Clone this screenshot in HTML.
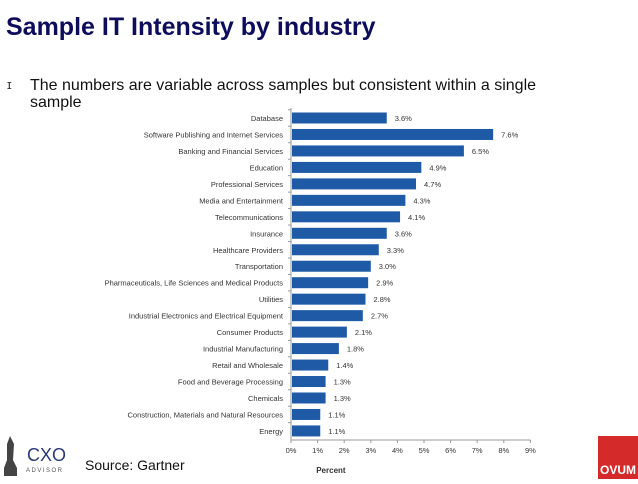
<!DOCTYPE html>
<html><head><meta charset="utf-8"><style>
body{margin:0;width:638px;height:479px;background:#fff;position:relative;overflow:hidden;font-family:"Liberation Sans",sans-serif}
.t{position:absolute}
</style></head><body>
<div class="t" style="left:6px;top:13px;font-size:25px;font-weight:bold;color:#0d0d5c;letter-spacing:0px">Sample IT Intensity by industry</div>
<div class="t" style="left:7px;top:77px;font-size:13px;color:#333">ɪ</div>
<div class="t" style="left:30px;top:77px;font-size:16px;line-height:17px;color:#111;width:515px">The numbers are variable across samples but consistent within a single sample</div>
<svg id="chart" width="638" height="479" style="position:absolute;left:0;top:0"></svg>
<div class="t" style="left:85px;top:457px;font-size:14px;color:#111">Source: Gartner</div>
<div class="t" style="left:2px;top:432px;width:75px;height:47px">
<svg width="75" height="47"><path d="M8 4 L12 12 L11 28 L15 36 L15 44 L2 44 L2 36 L5 28 L5 12 Z" fill="#444"/><text x="25" y="29" font-size="18" fill="#2a3a7a" font-family="Liberation Sans">CXO</text><text x="24" y="40" font-size="6" fill="#555" letter-spacing="1.5" font-family="Liberation Sans">ADVISOR</text></svg></div>
<div class="t" style="left:598px;top:436px;width:40px;height:43px;background:#d42a2a;color:#fff;font-weight:bold;font-size:12px;display:flex;align-items:flex-end;justify-content:center;padding-bottom:2px;box-sizing:border-box">OVUM</div>
<script>
const categories=["Database","Software Publishing and Internet Services","Banking and Financial Services","Education","Professional Services","Media and Entertainment","Telecommunications","Insurance","Healthcare Providers","Transportation","Pharmaceuticals, Life Sciences and Medical Products","Utilities","Industrial Electronics and Electrical Equipment","Consumer Products","Industrial Manufacturing","Retail and Wholesale","Food and Beverage Processing","Chemicals","Construction, Materials and Natural Resources","Energy"];
const values=[3.6,7.6,6.5,4.9,4.7,4.3,4.1,3.6,3.3,3.0,2.9,2.8,2.7,2.1,1.8,1.4,1.3,1.3,1.1,1.1];
const ticks=[0,1,2,3,4,5,6,7,8,9];
const svg=document.getElementById('chart');const NS='http://www.w3.org/2000/svg';
const x0=291,pxPer=26.6,y0=118,step=16.47,bh=11,axisY=440;
const xs=v=>x0+v*pxPer, ys=i=>y0+i*step;
function mk(t,a,txt){const e=document.createElementNS(NS,t);for(const k in a)e.setAttribute(k,a[k]);if(txt!=null)e.textContent=txt;svg.appendChild(e);return e;}
const ax=mk('line',{x1:x0,y1:108,x2:x0,y2:axisY,stroke:'#999','stroke-width':1});


const bx=mk('line',{x1:x0,y1:axisY,x2:xs(9),y2:axisY,stroke:'#999','stroke-width':1});


categories.forEach((c,i)=>{
 const y=ys(i);
 const r=mk('rect',{x:x0+1,y:y-bh/2,width:xs(values[i])-x0-1,height:bh,fill:'#1f5aa6'});
 
 
 const l=mk('text',{x:283,y:y+3,'font-size':7.5,'text-anchor':'end',fill:'#333'},c);
 
 
 const v=mk('text',{x:xs(values[i])+8,y:y+3,'font-size':7.5,fill:'#333'},values[i].toFixed(1)+'%');
 
 
 mk('line',{x1:x0-3,y1:y-step/2,x2:x0,y2:y-step/2,stroke:'#999'});
});
ticks.forEach(t=>{
 const tl=mk('text',{x:xs(t),y:453,'font-size':7.5,'text-anchor':'middle',fill:'#333'},t+'%');
 
 
 mk('line',{x1:xs(t),y1:axisY,x2:xs(t),y2:axisY+3,stroke:'#999'});
});
const xt=mk('text',{x:xs(1.5),y:473,'font-size':8,'font-weight':'bold','text-anchor':'middle',fill:'#333'},'Percent');


</script>
</body></html>
